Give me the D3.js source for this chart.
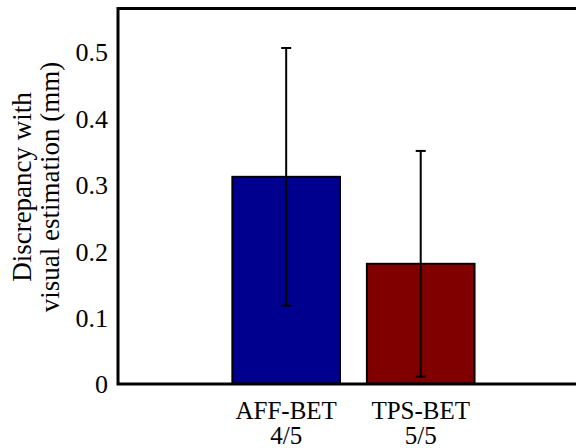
<!DOCTYPE html>
<html>
<head>
<meta charset="utf-8">
<script src="https://cdn.jsdelivr.net/npm/d3@7"></script>
</head>
<body style="margin:0">
<svg id="chart" width="576" height="448"></svg>
<script>
// Methods compared and their discrepancy statistics (mm)
const methods = ["AFF-BET", "TPS-BET"];
const successRates = ["4/5", "5/5"];
const meanDiscrepancy = [0.312, 0.181];
const stdDiscrepancy = [0.194, 0.170];
const barColors = ["#00008f", "#800000"];
const yTickValues = [0, 0.1, 0.2, 0.3, 0.4, 0.5];
const yTickLabels = ["0", "0.1", "0.2", "0.3", "0.4", "0.5"];
const yLabelLines = ["Discrepancy with", "visual estimation (mm)"];

const FONT = "Liberation Serif";

const svg = d3.select("#chart");

const x = d3.scaleLinear().domain([-0.25, 3.25]).range([118, 588.9]);
const y = d3.scaleLinear().domain([0, 0.5655]).range([384, 8.5]);
const barWidth = 0.8;

const data = methods.map((m, i) => ({
  name: m, rate: successRates[i], pos: i + 1,
  mean: meanDiscrepancy[i], sd: stdDiscrepancy[i], color: barColors[i]
}));

// Bars
svg.append("g").selectAll("rect")
  .data(data)
  .join("rect")
  .attr("x", d => x(d.pos - barWidth / 2))
  .attr("width", d => x(d.pos + barWidth / 2) - x(d.pos - barWidth / 2))
  .attr("y", d => y(d.mean))
  .attr("height", d => y(0) - y(d.mean))
  .attr("fill", d => d.color)
  .attr("stroke", "#000")
  .attr("stroke-width", 2);

// Error bars (mean ± sd)
const eb = svg.append("g").attr("stroke", "#000").attr("stroke-width", 2);
const capHalf = 5;
data.forEach(d => {
  const cx = x(d.pos);
  eb.append("line").attr("x1", cx).attr("x2", cx)
    .attr("y1", y(d.mean - d.sd)).attr("y2", y(d.mean + d.sd));
  [d.mean - d.sd, d.mean + d.sd].forEach(v => {
    eb.append("line").attr("x1", cx - capHalf).attr("x2", cx + capHalf)
      .attr("y1", y(v)).attr("y2", y(v));
  });
});

// Axes box
svg.append("rect")
  .attr("x", x(-0.25)).attr("y", y(0.5655))
  .attr("width", x(3.25) - x(-0.25))
  .attr("height", y(0) - y(0.5655))
  .attr("fill", "none").attr("stroke", "#000").attr("stroke-width", 3);

// Y axis labels
const yAxis = d3.axisLeft(y)
  .tickValues(yTickValues)
  .tickFormat((d, i) => yTickLabels[i])
  .tickSize(0)
  .tickPadding(10);
const gy = svg.append("g").attr("transform", `translate(${x(-0.25)},0)`).call(yAxis);
gy.select(".domain").remove();
gy.selectAll("text")
  .attr("font-family", FONT).attr("font-size", 26)
  .attr("fill", "#000").attr("dy", "0.34em");

// Category labels
data.forEach(d => {
  [[d.name, 419], [d.rate, 444]].forEach(([label, yy]) => {
    svg.append("text")
      .attr("x", x(d.pos)).attr("y", yy)
      .attr("text-anchor", "middle")
      .attr("font-family", FONT).attr("font-size", 25).attr("fill", "#000")
      .text(label);
  });
});

// Y axis title
yLabelLines.forEach((line, i) => {
  svg.append("text")
    .attr("transform", `translate(${31 + i * 28},187) rotate(-90)`)
    .attr("text-anchor", "middle")
    .attr("font-family", FONT).attr("font-size", 27).attr("fill", "#000")
    .text(line);
});
</script>
</body>
</html>
